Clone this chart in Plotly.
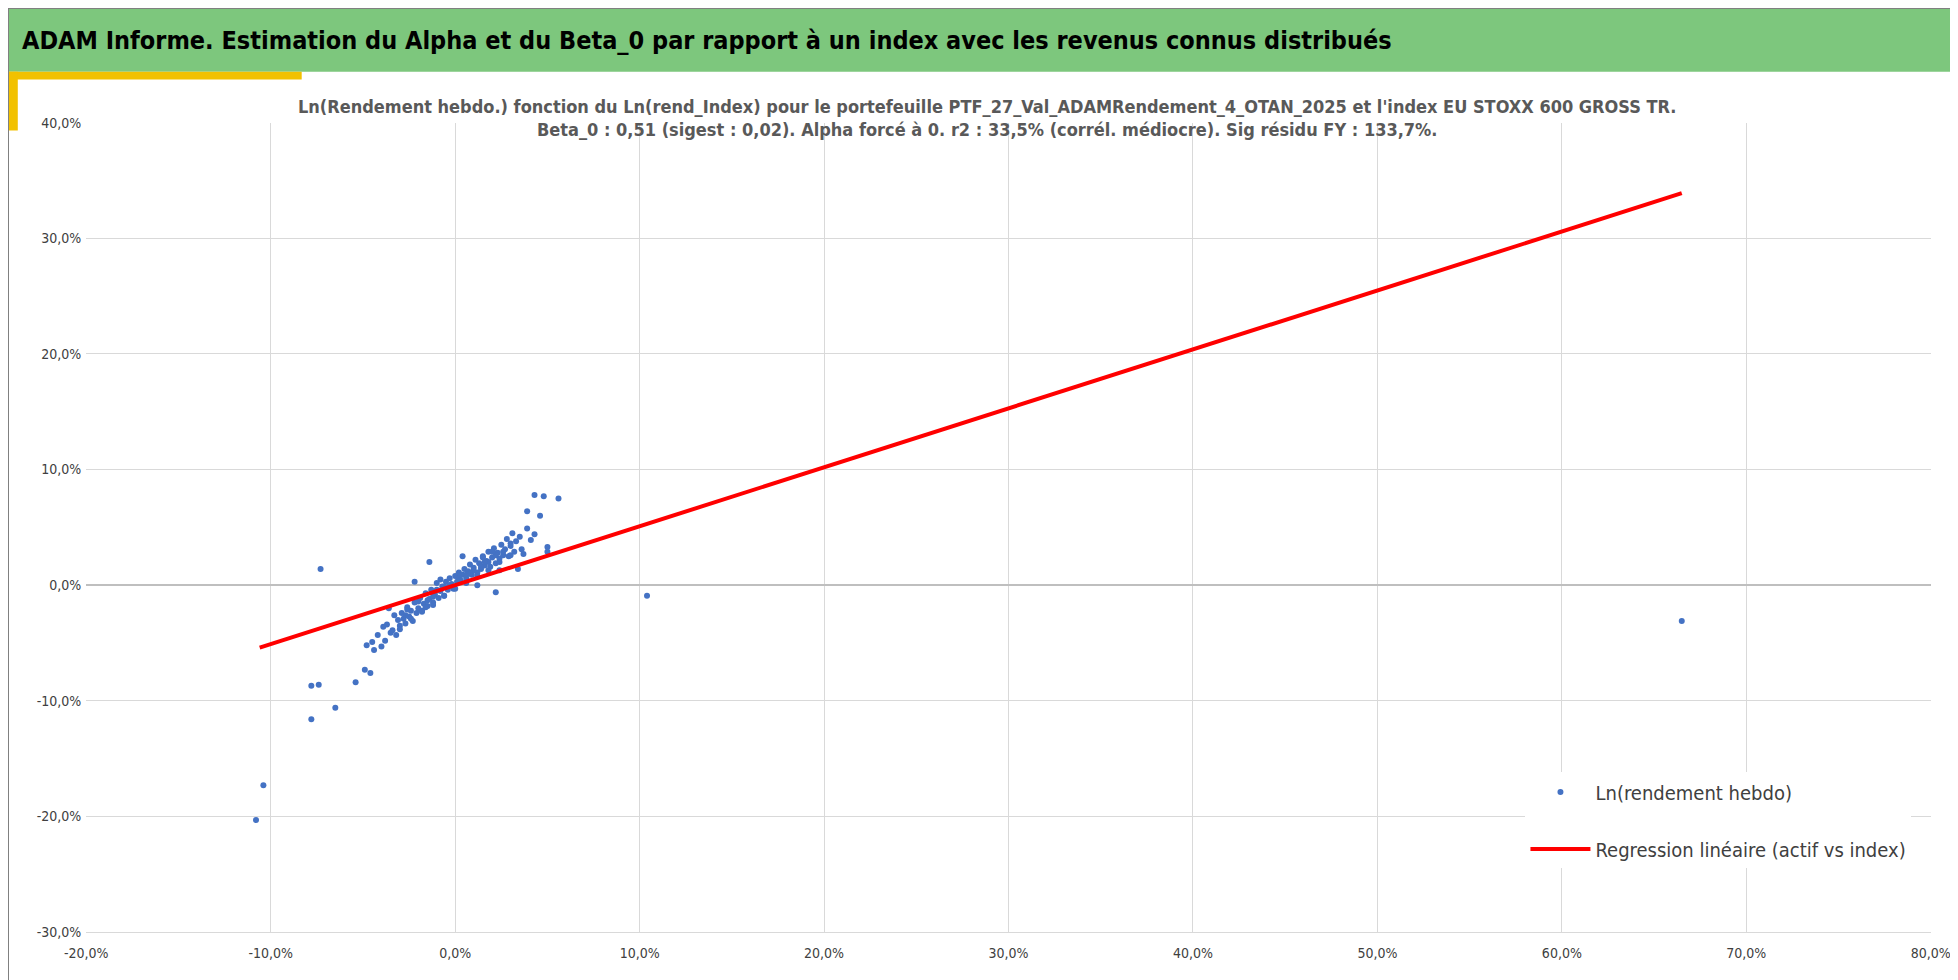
import plotly.graph_objects as go

# weekly log returns (%), index vs portfolio
x_index = [-10.8, -10.4, -7.8, -7.8, -7.4, -7.3, -6.5, -5.4, -4.9, -4.8, -4.6, -4.5, -4.4, -4.2, -4.0, -3.9,
           -3.8, -3.7, -3.5, -3.4, -3.3, -3.2, -3.1, -3.0, -2.9, -2.8, -2.7, -2.6, -2.5, -2.4, -2.3, -2.2,
           -2.1, -2.0, -1.9, -1.8, -1.7, -1.6, -1.5, -1.4, -1.3, -1.2, -1.1, -1.0, -0.9, -0.8, -0.7, -0.6,
           -0.5, -0.4, -0.3, -0.2, -0.1, 0.0, 0.1, 0.2, 0.3, 0.4, 0.5, 0.6, 0.7, 0.8, 0.9, 1.0,
           1.1, 1.2, 1.3, 1.4, 1.5, 1.6, 1.7, 1.8, 1.9, 2.0, 2.1, 2.2, 2.3, 2.4, 2.5, 2.6,
           2.7, 2.8, 2.9, 3.0, 3.1, 3.2, 3.3, 3.5, 3.7, 3.9, 4.1, 4.3, 4.6, 4.8, 5.0, 5.0,
           5.6, 3.9, 4.3, -2.6, -2.0, -1.5, -1.0, -0.6, -0.3, 0.2, 0.6, 1.0, 1.4, 1.8, 2.2, 2.6,
           3.0, 2.2, -1.2, 0.8, 1.6, 2.4, -0.8, -2.2, -3.6, 3.4, 10.4, 66.5, -1.4, 0.4, 1.2, 2.0,
           -3.0, -2.4, -1.8, -1.2, -0.6, 0.0, 0.6, 1.2, 1.8, 2.4, 3.0, 3.6, -2.7, -1.6, 0.3, 1.5]
y_port = [-20.3, -17.3, -11.6, -8.7, -8.6, 1.4, -10.6, -8.4, -7.3, -5.2, -7.6, -4.9, -5.6, -4.3, -5.3, -3.6,
          -4.8, -3.4, -4.1, -3.9, -2.6, -4.3, -3.0, -3.5, -2.4, -2.9, -3.3, -1.9, -2.7, -2.2, -3.1, -1.5,
          -2.4, -2.0, -1.1, -2.3, -1.6, -0.7, -1.8, -1.2, -0.4, -1.5, -0.8, 0.2, -1.1, -0.5, -0.1, -0.9,
          0.3, -0.4, 0.6, 0.1, -0.3, 0.8, 0.3, 1.1, 0.4, 0.9, 1.4, 0.6, 1.2, 1.8, 0.9, 1.5,
          2.2, 1.1, 1.9, 1.4, 2.5, 1.7, 2.1, 2.9, 1.6, 2.4, 3.2, 1.9, 2.8, 2.3, 3.5, 2.6,
          3.1, 4.0, 2.5, 3.4, 4.5, 2.9, 3.8, 4.2, 2.7, 6.4, 3.9, 7.8, 6.0, 7.7, 3.3, 2.9,
          7.5, 4.9, 4.4, -2.1, -1.4, -1.3, -0.4, -0.1, 0.0, 0.6, 0.9, 1.3, 1.6, 2.0, 2.6, 2.9,
          3.6, -0.6, -1.0, 1.0, 2.0, 1.3, 0.5, 0.3, -2.0, 1.4, -0.9, -3.1, 2.0, 2.5, 0.0, 2.9,
          -3.8, -2.9, -2.2, -1.7, -0.9, -0.3, 0.2, 0.8, 1.3, 2.0, 2.6, 3.1, -2.6, -1.9, 0.9, 2.4]
line_x = [-10.6, 66.5]
line_y = [-5.4, 33.9]

x_ticks = [-20, -10, 0, 10, 20, 30, 40, 50, 60, 70, 80]
y_ticks = [-30, -20, -10, 0, 10, 20, 30, 40]

font = "DejaVu Sans Condensed, Liberation Sans Narrow, sans-serif"

def fr(v):
    return ("%.1f%%" % v).replace(".", ",")

fig = go.Figure()
fig.add_trace(go.Scatter(x=x_index, y=y_port, mode="markers", name="Ln(rendement hebdo)",
                         legendgroup="a", marker=dict(color="#4472C4", size=6)))
fig.add_trace(go.Scatter(x=line_x, y=line_y, mode="lines", name="Regression linéaire (actif vs index)",
                         legendgroup="b", line=dict(color="#FF0000", width=4)))

fig.update_layout(
    width=1958, height=980,
    paper_bgcolor="white", plot_bgcolor="white",
    margin=dict(l=0, r=0, t=0, b=0),
    font=dict(family=font, size=14, color="#404040"),
    xaxis=dict(domain=[0.040, 0.982], range=[-20, 80], tickvals=x_ticks, automargin=False,
               ticktext=[fr(v) for v in x_ticks], showgrid=True, gridcolor="#D9D9D9",
               zeroline=False, showline=True, linecolor="#D9D9D9", ticks="",
               tickfont=dict(size=14), ticklabelstandoff=8),
    yaxis=dict(domain=[0.057, 0.883], range=[-30, 40], tickvals=y_ticks, automargin=False,
               ticktext=[fr(v) for v in y_ticks], showgrid=True, gridcolor="#D9D9D9",
               zeroline=True, zerolinecolor="#BFBFBF", showline=False, ticks="",
               tickfont=dict(size=14), ticklabelstandoff=4),
    legend=dict(x=0.775, y=0.22, xanchor="left", yanchor="top", bgcolor="white",
                font=dict(size=20, color="#404040"), tracegroupgap=28, itemwidth=60),
    shapes=[
        dict(type="rect", xref="paper", yref="paper", x0=0, x1=1, y0=0.935, y1=1,
             fillcolor="#7DC77D", line=dict(width=0), layer="below"),
        dict(type="rect", xref="paper", yref="paper", x0=0, x1=0.15, y0=0.927, y1=0.935,
             fillcolor="#F2C100", line=dict(width=0)),
        dict(type="rect", xref="paper", yref="paper", x0=0, x1=0.005, y0=0.875, y1=0.935,
             fillcolor="#F2C100", line=dict(width=0)),
        dict(type="rect", xref="paper", yref="paper", x0=0, x1=1, y0=0, y1=1,
             line=dict(color="#808080", width=2)),
    ],
    annotations=[
        dict(xref="paper", yref="paper", x=0.006, y=0.967, xanchor="left", yanchor="middle",
             text="<b>ADAM Informe. Estimation du Alpha et du Beta_0 par rapport à un index avec les revenus connus distribués</b>",
             showarrow=False, font=dict(size=25, color="black", family=font)),
        dict(xref="paper", yref="paper", x=0.5, y=0.912, xanchor="center", yanchor="top",
             text="<b>Ln(Rendement hebdo.) fonction du Ln(rend_Index) pour le portefeuille PTF_27_Val_ADAMRendement_4_OTAN_2025 et l'index EU STOXX 600 GROSS TR.<br>Beta_0 : 0,51 (sigest : 0,02). Alpha forcé à 0. r2 : 33,5% (corrél. médiocre). Sig résidu FY : 133,7%.</b>",
             showarrow=False, font=dict(size=18, color="#595959", family=font)),
    ],
)
fig.write_html("out.html")
